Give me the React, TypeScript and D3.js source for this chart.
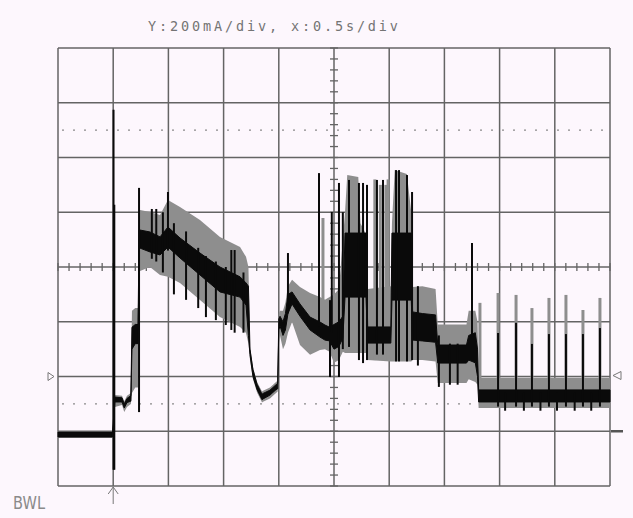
import React from 'react';
import * as d3 from 'd3';

// scope capture, time in seconds, current in mA (200 mA/div, 0.5 s/div)
const traceT = [0, 0.495, 0.515, 0.58, 0.6, 0.625, 0.66, 0.67, 0.7, 0.725, 0.735, 0.743, 0.833, 0.924, 0.996, 1.105, 1.286, 1.467, 1.649, 1.703, 1.725, 1.739, 1.766, 1.803, 1.848, 1.857, 1.92, 1.975, 1.99, 2.0, 2.011, 2.038, 2.06, 2.083, 2.12, 2.192, 2.283, 2.373, 2.418, 2.46, 2.5, 2.545, 2.58, 2.6, 2.62, 2.72, 2.74, 2.79, 2.805, 3.015, 3.025, 3.05, 3.16, 3.2, 3.212, 3.3, 3.42, 3.44, 3.7, 3.72, 3.78, 3.8, 3.81, 5.0];
const envHi = [-199, -199, -68, -70, -90, -70, -60, 240, 250, 250, 620, 608, 601, 590, 645, 619, 572, 510, 473, 437, 400, 110, 35, -20, -55, -52, -40, -20, -15, 230, 240, 240, 270, 330, 353, 327, 305, 290, 280, 290, 300, 320, 500, 600, 736, 729, 560, 520, 320, 330, 560, 754, 740, 600, 327, 330, 320, 190, 190, 240, 240, 200, -5, -5];
const envLo = [-225, -225, -111, -104, -130, -111, -100, -60, -40, -40, 370, 385, 400, 371, 364, 342, 279, 217, 181, 159, 120, 60, -10, -58, -95, -92, -80, -60, -55, 120, 150, 100, 120, 160, 199, 115, 79, 97, 100, 90, 50, 60, 90, 86, 86, 86, 86, 86, 60, 55, 55, 55, 55, 55, 60, 60, 55, -24, -24, -10, -20, -30, -115, -115];
const coreHi = [-203, -203, -75, -78, -100, -80, -70, 180, 190, 190, 535, 535, 528, 510, 546, 506, 451, 400, 364, 342, 330, 100, 25, -28, -65, -62, -50, -30, -25, 210, 220, 200, 230, 300, 309, 265, 217, 199, 188, 180, 190, 200, 220, 524, 524, 524, 524, 524, 181, 181, 524, 524, 524, 524, 236, 230, 225, 115, 115, 150, 160, 100, -49, -49];
const coreLo = [-221, -221, -93, -93, -115, -95, -90, 100, 120, 120, 469, 469, 455, 444, 473, 433, 371, 309, 290, 261, 150, 80, 0, -48, -85, -82, -68, -48, -45, 170, 185, 150, 170, 230, 265, 220, 170, 144, 133, 130, 100, 110, 140, 290, 290, 290, 290, 290, 122, 122, 279, 279, 279, 279, 133, 130, 125, 49, 49, 60, 50, 0, -93, -93];

// dark glitches
const spikeT = [0.503, 0.51, 0.734, 0.85, 0.89, 0.95, 0.996, 1.05, 1.16, 1.27, 1.34, 1.43, 1.52, 1.57, 1.6, 1.68, 2.083, 2.364, 2.464, 2.48, 2.545, 2.58, 2.636, 2.726, 2.763, 2.799, 2.889, 2.944, 3.062, 3.089, 3.161, 3.207, 3.26, 3.45, 3.55, 3.62, 3.75, 3.986, 4.149, 4.293, 4.447, 4.601, 4.755, 4.909, 4.05, 4.22, 4.37, 4.52, 4.68, 4.83];
const spikeTop = [974, 627, 689, 612, 612, 600, 674, 560, 530, 470, 440, 420, 400, 462, 462, 380, 451, 743, 279, 601, 707, 600, 718, 707, 707, 700, 718, 718, 754, 754, 736, 674, 330, 150, 120, 120, 488, 159, 196, 119, 155, 155, 155, 177, -60, -60, -60, -60, -60, -60];
const spikeBottom = [-341, -341, -130, 430, 420, 380, 460, 300, 280, 250, 217, 206, 188, 170, 160, 160, 230, 181, -2, 159, -2, 100, 108, 60, 49, 60, 80, 80, 55, 55, 55, 60, 40, -38, -30, -30, 60, -110, -110, -110, -110, -110, -110, -110, -125, -125, -125, -125, -125, -125];

// grey envelope glitches
const haloT = [2.4, 2.87, 2.92, 2.97, 2.99, 3.822, 3.986, 4.149, 4.293, 4.447, 4.601, 4.755, 4.909];
const haloTop = [579, 720, 700, 700, 720, 269, 305, 298, 250, 287, 298, 243, 287];
const haloBottom = [150, 60, 60, 60, 60, -20, -60, -60, -60, -60, -60, -60, -60];

const dottedLevels = [900, -100];
const title = 'Y:200mA/div, x:0.5s/div';

const W = 633;
const H = 518;
const margin = { top: 48, right: 23, bottom: 32, left: 58 };
const bg = '#fdf7fd';
const gridColor = '#646464';

export default function App() {
  const x = d3.scaleLinear().domain([0, 5]).range([margin.left, W - margin.right]);
  const y = d3.scaleLinear().domain([-400, 1200]).range([H - margin.bottom, margin.top]);

  const idx = d3.range(traceT.length);
  const envArea = d3.area<number>()
    .x(i => x(traceT[i]))
    .y0(i => y(envLo[i]))
    .y1(i => y(envHi[i]));
  const coreArea = d3.area<number>()
    .x(i => x(traceT[i]))
    .y0(i => y(coreLo[i]))
    .y1(i => y(coreHi[i]));

  const [x0, x1] = x.range();
  const [y0, y1] = y.range();
  const xc = x(2.5);
  const yc = y(400);
  const yGnd = y(0);
  const xTrig = x(0.5);

  return (
    <svg width={W} height={H} style={{ position: 'absolute', left: 0, top: 0, background: bg }}>
      <rect x={0} y={0} width={W} height={H} fill={bg} />

      <text x={148} y={31} fontFamily="DejaVu Sans Mono" fontSize={13.5} fill="#747474"
        textLength={250} lengthAdjust="spacing">{title}</text>

      {/* dotted 10/90 % lines */}
      {dottedLevels.map(v => (
        <line key={v} x1={x0} x2={x1} y1={y(v)} y2={y(v)} stroke="#8a8a8a"
          strokeWidth={1.3} strokeDasharray="2 9" strokeDashoffset={-4} />
      ))}

      {/* grid */}
      {x.ticks(10).map(t => (
        <line key={'gx' + t} x1={x(t)} x2={x(t)} y1={y1} y2={y0} stroke={gridColor} strokeWidth={1.5} />
      ))}
      {d3.range(-400, 1201, 200).map(v => (
        <line key={'gy' + v} x1={x0} x2={x1} y1={y(v)} y2={y(v)} stroke={gridColor} strokeWidth={1.5} />
      ))}

      {/* centre axis minor ticks */}
      {x.ticks(50).map(t => (
        <line key={'mx' + t} x1={x(t)} x2={x(t)} y1={yc - 4} y2={yc + 4} stroke={gridColor} strokeWidth={1.3} />
      ))}
      {d3.range(-400, 1201, 40).map(v => (
        <line key={'my' + v} x1={xc - 4} x2={xc + 4} y1={y(v)} y2={y(v)} stroke={gridColor} strokeWidth={1.3} />
      ))}

      {/* trace */}
      <path d={envArea(idx) || ''} fill="#8e8e8e" />
      {haloT.map((t, i) => (
        <line key={'h' + i} x1={x(t)} x2={x(t)} y1={y(haloTop[i])} y2={y(haloBottom[i])} stroke="#8e8e8e" strokeWidth={3} />
      ))}
      <path d={coreArea(idx) || ''} fill="#0a0a0a" stroke="#0a0a0a" strokeWidth={1} />
      {spikeT.map((t, i) => (
        <line key={'s' + i} x1={x(t)} x2={x(t)} y1={y(spikeTop[i])} y2={y(spikeBottom[i])} stroke="#0a0a0a" strokeWidth={2} />
      ))}

      {/* markers */}
      <path d={`M${x0 - 10},${yGnd - 4}L${x0 - 4},${yGnd}L${x0 - 10},${yGnd + 4}Z`} fill="none" stroke="#777" strokeWidth={1} />
      <path d={`M${x1 + 11},${yGnd - 5}L${x1 + 3},${yGnd - 1}L${x1 + 11},${yGnd + 3}Z`} fill="none" stroke="#777" strokeWidth={1} />
      <line x1={x1 + 1} x2={x1 + 13} y1={y(-200)} y2={y(-200)} stroke="#555" strokeWidth={2.5} />
      <line x1={xTrig} x2={xTrig} y1={y0 + 1} y2={y0 + 18} stroke="#777" strokeWidth={1} />
      <path d={`M${xTrig - 5},${y0 + 8}L${xTrig},${y0 + 1}L${xTrig + 5},${y0 + 8}`} fill="none" stroke="#777" strokeWidth={1} />

      <text x={13} y={509} fontFamily="DejaVu Sans" fontSize={17} fill="#8a8a8a"
        textLength={32} lengthAdjust="spacingAndGlyphs">BWL</text>
    </svg>
  );
}
